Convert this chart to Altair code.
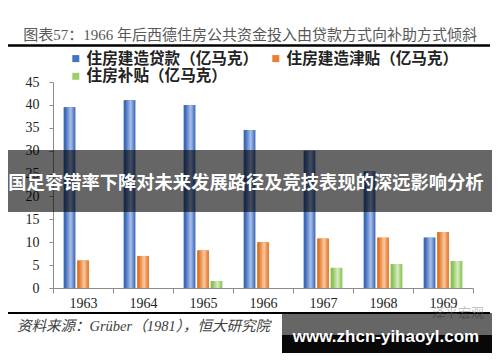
import altair as alt
import pandas as pd

years = ["1963", "1964", "1965", "1966", "1967", "1968", "1969"]
series = ["住房建造贷款（亿马克）", "住房建造津贴（亿马克）", "住房补贴（亿马克）"]
loans = [39.5, 41.0, 40.0, 34.5, 30.0, 25.5, 11.0]
construction_subsidy = [6.0, 7.0, 8.2, 10.0, 10.8, 11.0, 12.2]
housing_subsidy = [None, None, 1.5, None, 4.4, 5.2, 5.9]
y_ticks = [0, 5, 10, 15, 20, 25, 30, 35, 40, 45]

solid_colors = ["#4472C4", "#ED7D31", "#9BCF6B"]
edge_colors = ["#3A67B8", "#E2711F", "#86C050"]
light_colors = ["#A9C0E8", "#F9C9A3", "#D6EDC1"]

title_text = "图表57：1966 年后西德住房公共资金投入由贷款方式向补助方式倾斜"
source_text = "资料来源：Grüber（1981），恒大研究院"
banner_text = "国足容错率下降对未来发展路径及竞技表现的深远影响分析"
url_text = "www.zhcn-yihaoyl.com"
mark_text = "泽平宏观"

rows = []
for s, vals in zip(series, [loans, construction_subsidy, housing_subsidy]):
    for yr, v in zip(years, vals):
        rows.append({"year": yr, "series": s, "value": v})
df = pd.DataFrame(rows)

x_enc = alt.X(
    "year:N",
    sort=years,
    title=None,
    scale=alt.Scale(paddingInner=0, paddingOuter=0),
    axis=alt.Axis(
        labelAngle=0,
        labelFont="Liberation Serif",
        labelFontSize=14,
        labelColor="#222222",
        domainColor="#8c8c8c",
        tickColor="#8c8c8c",
        tickSize=5,
        tickBand="extent",
        labelPadding=3,
    ),
)
xo_enc = alt.XOffset(
    "series:N", sort=series,
    scale=alt.Scale(domain=series, paddingInner=0.15, paddingOuter=0.8),
)
y_enc = alt.Y(
    "value:Q",
    title=None,
    scale=alt.Scale(domain=[0, 45], nice=False),
    axis=alt.Axis(
        values=y_ticks,
        grid=False,
        labelFont="Liberation Serif",
        labelFontSize=14,
        labelColor="#222222",
        domainColor="#8c8c8c",
        tickColor="#8c8c8c",
        tickSize=4,
        labelPadding=10,
    ),
)

base = alt.Chart(df).transform_filter("isValid(datum.value)")

solid = base.mark_bar().encode(
    x=x_enc,
    xOffset=xo_enc,
    y=y_enc,
    color=alt.Color(
        "series:N",
        sort=series,
        scale=alt.Scale(domain=series, range=solid_colors),
        legend=alt.Legend(
            title=None,
            orient="none",
            legendX=15,
            legendY=-31.5,
            direction="horizontal",
            columns=2,
            columnPadding=9,
            rowPadding=1,
            padding=0,
            symbolType="square",
            symbolSize=49,
            symbolStrokeWidth=0,
            labelOffset=3,
            labelFont="Noto Sans CJK SC",
            labelFontSize=15.6,
            labelFontWeight="bold",
            labelColor="#222222",
            labelLimit=300,
        ),
    ),
)

layers = [solid]
for s, dark, light in zip(series, edge_colors, light_colors):
    grad = alt.LinearGradient(
        gradient="linear",
        x1=0, x2=1, y1=0, y2=0,
        stops=[
            alt.GradientStop(color=dark, offset=0),
            alt.GradientStop(color=dark, offset=0.12),
            alt.GradientStop(color=light, offset=0.6),
            alt.GradientStop(color=dark, offset=1),
        ],
    )
    layers.append(
        base.transform_filter(alt.datum.series == s)
        .mark_bar(color=grad)
        .encode(x=x_enc, xOffset=xo_enc, y=y_enc)
    )

one = alt.Chart(pd.DataFrame({"k": [0]}))

title = one.mark_text(
    font="Liberation Serif, Noto Sans CJK SC", fontSize=15, color="#595959",
    align="center", baseline="middle",
).encode(x=alt.value(197), y=alt.value(-47), text=alt.value(title_text))

top_rule = one.mark_rule(color="#000000", strokeWidth=2.5).encode(
    x=alt.value(-46), x2=alt.value(437), y=alt.value(-36.5)
)
bottom_rule = one.mark_rule(color="#000000", strokeWidth=2).encode(
    x=alt.value(-46), x2=alt.value(437), y=alt.value(231)
)
source = one.mark_text(
    font="Liberation Serif, Noto Sans CJK SC", fontSize=14.5, fontStyle="italic",
    color="#404040", align="left", baseline="middle",
).encode(x=alt.value(-36), y=alt.value(245), text=alt.value(source_text))

banner = one.mark_rect(color="#000000", opacity=0.6).encode(
    x=alt.value(-53), x2=alt.value(447), y=alt.value(68), y2=alt.value(130)
)
banner_txt = one.mark_text(
    font="Noto Sans CJK SC", fontSize=18.3, fontWeight="bold", color="#ffffff",
    align="center", baseline="middle",
).encode(x=alt.value(193), y=alt.value(102), text=alt.value(banner_text))

wm = one.mark_text(
    font="Noto Sans CJK SC", fontSize=13, color="#9a9a9a", opacity=0.6,
    align="center", baseline="middle",
).encode(x=alt.value(405), y=alt.value(231), text=alt.value(mark_text))

box1 = one.mark_rect(color="#000000", opacity=0.6).encode(
    x=alt.value(229), x2=alt.value(440), y=alt.value(231), y2=alt.value(253)
)
box2 = one.mark_rect(color="#000000", opacity=0.97).encode(
    x=alt.value(229), x2=alt.value(440), y=alt.value(253), y2=alt.value(271)
)
url = one.mark_text(
    font="Liberation Sans", fontSize=17, fontWeight="bold", color="#ffffff",
    align="center", baseline="middle",
).encode(x=alt.value(333), y=alt.value(255), text=alt.value(url_text))

chart = alt.layer(
    *layers, title, top_rule, bottom_rule, source, wm, banner, banner_txt, box1, box2, url
).properties(
    width=420,
    height=206,
    padding={"left": 45, "top": 74, "right": 19, "bottom": 66},
    autosize=alt.AutoSizeParams(type="none"),
    background="#ffffff",
).configure_view(stroke=None)

chart.save("out.html", embed_options={"renderer": "svg", "actions": False})
